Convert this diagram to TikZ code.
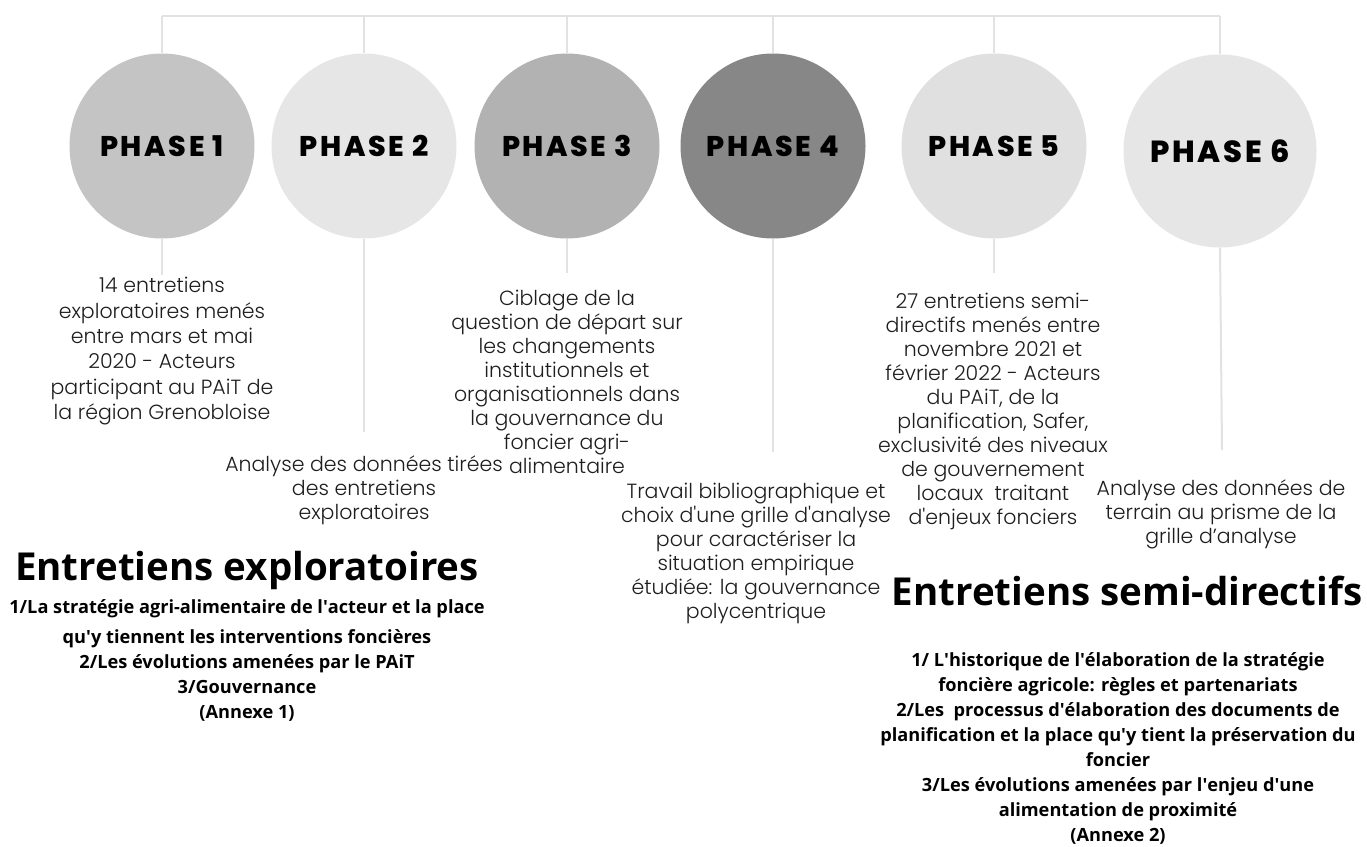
\documentclass[tikz,border=0pt]{standalone}
\usepackage{fontspec}
\setmainfont{Open Sans}
\newfontfamily\phasefont{Poppins}[LetterSpace=9, BoldFont={* ExtraBold}]
\newfontfamily\thinfont{Poppins}[UprightFont=* Light]
\newcommand{\sq}{\textquotesingle}
\definecolor{cA}{HTML}{C4C4C4}
\definecolor{cB}{HTML}{E6E6E6}
\definecolor{cC}{HTML}{B2B2B2}
\definecolor{cD}{HTML}{878787}
\definecolor{cE}{HTML}{E0E0E0}
\definecolor{cF}{HTML}{E6E6E6}
\definecolor{linec}{HTML}{E2E2E2}
\definecolor{bodyc}{HTML}{1E1E1E}
\begin{document}
\begin{tikzpicture}[x=1pt,y=-1pt,
  phasecirc/.style={circle, minimum size=185pt, inner sep=0pt, text=black,
    font=\phasefont\bfseries\fontsize{28.5}{28.5}\selectfont},
  link/.style={draw=linec, line width=2pt},
  body/.style={anchor=north, align=center, inner sep=0pt, text=bodyc,
    font=\thinfont\fontsize{20.5}{24}\selectfont},
  header/.style={anchor=base, inner sep=0pt, text=black,
    font=\bfseries\fontsize{38.5}{38.5}\selectfont},
  sub/.style={anchor=north, align=center, inner sep=0pt, text=black,
    font=\bfseries\fontsize{18.2}{25}\selectfont}]
\useasboundingbox[fill=white] (0,0) rectangle (1367,846);

% circles
\node[phasecirc, fill=cA] (p1) at (162,146) {PHASE 1};
\node[phasecirc, fill=cB] (p2) at (364,146) {PHASE 2};
\node[phasecirc, fill=cC] (p3) at (567,146) {PHASE 3};
\node[phasecirc, fill=cD] (p4) at (773,146) {PHASE 4};
\node[phasecirc, fill=cE] (p5) at (994,146) {PHASE 5};
\node[phasecirc, fill=cF, minimum size=193pt, font=\phasefont\bfseries\fontsize{30.5}{30.5}\selectfont] (p6) at (1220,151) {PHASE 6};

% top connectors
\coordinate (t1) at (162,16);
\coordinate (t2) at (364,16);
\coordinate (t3) at (567,16);
\coordinate (t4) at (773,16);
\coordinate (t5) at (994,16);
\coordinate (t6) at (1220,16);
\draw[link] (t1) -- (t6);
\foreach \i in {1,...,6} {\draw[link] (t\i) -- (p\i.north);}

% bottom connectors
\coordinate (b1) at (162,275);
\coordinate (b2) at (364,432);
\coordinate (b3) at (567,273);
\coordinate (b4) at (773,452);
\coordinate (b5) at (994,273);
\coordinate (b6) at (1222,450);
\foreach \i in {1,...,6} {\draw[link] (p\i.south) -- (b\i);}

% phase texts
\node[body, font=\thinfont\fontsize{20.5}{25.4}\selectfont] (x1) at (162,277) {14 entretiens\\exploratoires menés\\entre mars et mai\\2020 - Acteurs\\participant au PAiT de\\la région Grenobloise};
\node[body] (x2) at (364,456) {Analyse des données tirées\\des entretiens\\exploratoires};
\node[body] (x3) at (567,290) {Ciblage de la\\question de départ sur\\les changements\\institutionnels et\\organisationnels dans\\la gouvernance du\\foncier agri-\\alimentaire};
\node[body] (x4) at (756,483) {Travail bibliographique et\\choix d\sq une grille d\sq analyse\\pour caractériser la\\situation empirique\\étudiée: la gouvernance\\polycentrique};
\node[body] (x5) at (993,293) {27 entretiens semi-\\directifs menés entre\\novembre 2021 et\\février 2022 - Acteurs\\du PAiT, de la\\planification, Safer,\\exclusivité des niveaux\\de gouvernement\\locaux\ \ traitant\\d\sq enjeux fonciers};
\node[body] (x6) at (1221,480) {Analyse des données de\\terrain au prisme de la\\grille d’analyse};

% headers
\node[header] (h1) at (247,580) {Entretiens exploratoires};
\node[header] (h2) at (1127,605) {Entretiens semi-directifs};

\node[sub] (s1) at (247,599) {1/La stratégie agri-alimentaire de l\sq acteur et la place\\[5pt]qu\sq y tiennent les interventions foncières\\2/Les évolutions amenées par le PAiT\\3/Gouvernance\\(Annexe 1)};
\node[sub] (s2) at (1118,652) {1/ L\sq historique de l\sq élaboration de la stratégie\\foncière agricole: règles et partenariats\\2/Les\ \ processus d\sq élaboration des documents de\\planification et la place qu\sq y tient la préservation du\\foncier\\3/Les évolutions amenées par l\sq enjeu d\sq une\\alimentation de proximité\\(Annexe 2)};
\end{tikzpicture}
\end{document}
